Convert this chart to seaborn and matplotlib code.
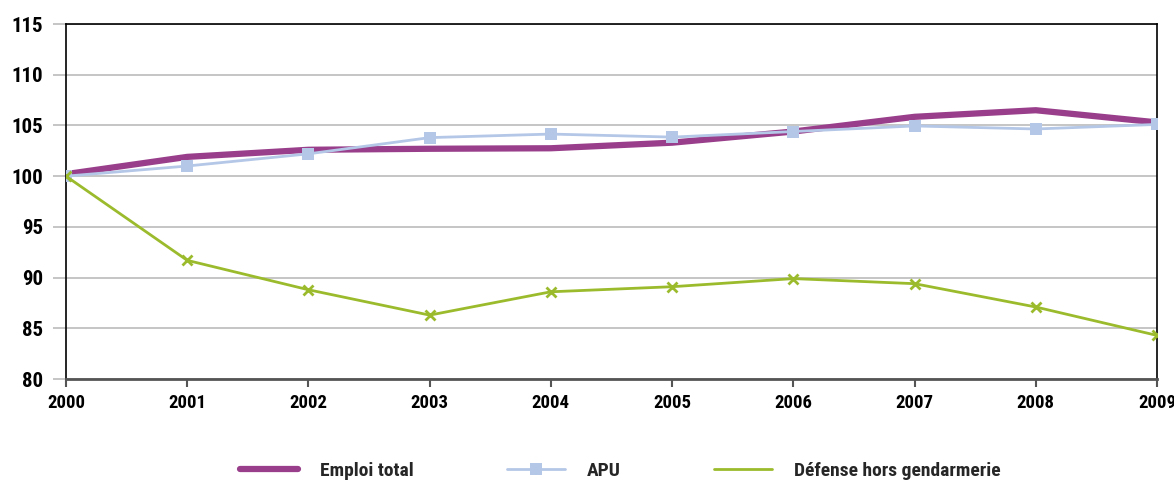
import pandas as pd
import matplotlib
matplotlib.use("Agg")
import matplotlib.pyplot as plt
import seaborn as sns

# --- Data (index 2000 = 100) ---
years = [2000, 2001, 2002, 2003, 2004, 2005, 2006, 2007, 2008, 2009]
emploi_total = [100.2, 101.9, 102.6, 102.7, 102.75, 103.3, 104.4, 105.85, 106.5, 105.3]
apu = [100.0, 101.0, 102.2, 103.8, 104.15, 103.85, 104.4, 104.95, 104.65, 105.1]
defense = [100.0, 91.7, 88.8, 86.3, 88.6, 89.1, 89.9, 89.4, 87.1, 84.3]
y_ticks = [80, 85, 90, 95, 100, 105, 110, 115]

FONT = ['Liberation Sans Narrow', 'Roboto Condensed', 'Roboto', 'DejaVu Sans']

sns.set_theme(style="white")
plt.rcParams['font.family'] = FONT

fig = plt.figure(figsize=(11.74, 4.84), dpi=100)
ax = fig.add_axes([0.0562, 0.2169, 0.9293, 0.7335])

sns.lineplot(x=years, y=emploi_total, ax=ax, color="#983E8A", linewidth=4.5,
             label="Emploi total", zorder=3)
sns.lineplot(x=years, y=apu, ax=ax, color="#B4C7E7", linewidth=2, marker="s",
             markersize=9, markeredgewidth=0, markeredgecolor="#B4C7E7",
             label="APU", zorder=4)
sns.lineplot(x=years, y=defense, ax=ax, color="#9BBB2D", linewidth=2, marker="x",
             markersize=7, markeredgewidth=2, markeredgecolor="#9BBB2D",
             label="Défense hors gendarmerie", zorder=4)

ax.set_xlim(2000, 2009)
ax.set_ylim(80, 115)
ax.set_xticks(years)
ax.set_yticks(y_ticks)
ax.set_xticklabels([str(y) for y in years], fontsize=13.5, fontweight="bold")
ax.set_yticklabels([str(v) for v in y_ticks], fontsize=15, fontweight="bold")

# horizontal gridlines extending a bit left of the axis
ax.yaxis.grid(True, color="#BBBBBB", linewidth=1.2)
ax.tick_params(axis="y", length=9.4, color="#BBBBBB", width=1.2, pad=7, left=True,
               labelcolor="black")
ax.tick_params(axis="x", length=6, color="#555555", width=1.5, pad=5, bottom=True,
               labelcolor="black")

for side in ["left", "right", "top"]:
    ax.spines[side].set_color("black")
    ax.spines[side].set_linewidth(1.2)
ax.spines["bottom"].set_color("#555555")
ax.spines["bottom"].set_linewidth(2)
ax.set_xlabel("")
ax.set_ylabel("")

leg = ax.legend(loc="upper center", bbox_to_anchor=(0.508, -0.185), ncol=3, frameon=False,
                prop={"weight": "bold", "size": 14, "family": FONT},
                handlelength=3.0, columnspacing=4.8, handletextpad=1.1)
# the green series shows no cross in the legend key
leg.legend_handles[2].set_marker("")

plt.savefig("out.png", dpi=100)
